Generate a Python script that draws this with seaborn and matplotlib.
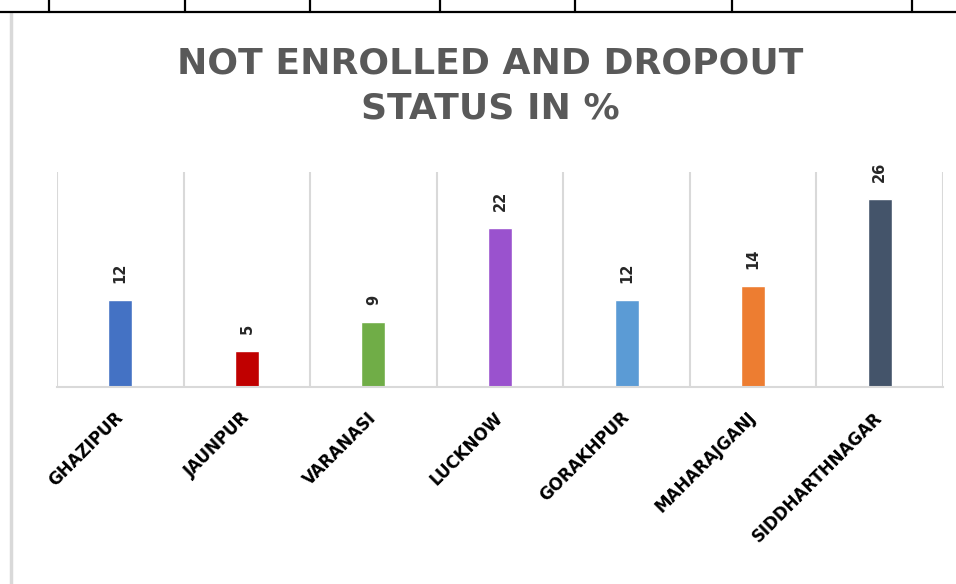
import pandas as pd
import numpy as np
import matplotlib as mpl
import matplotlib.pyplot as plt
import seaborn as sns
from matplotlib.lines import Line2D

#### Data
districts = ['GHAZIPUR', 'JAUNPUR', 'VARANASI', 'LUCKNOW', 'GORAKHPUR', 'MAHARAJGANJ', 'SIDDHARTHNAGAR']
values = [12, 5, 9, 22, 12, 14, 26]
bar_colors = ['#4472C4', '#C00000', '#70AD47', '#9A52CE', '#5B9BD5', '#ED7D31', '#44546A']
title = 'NOT ENROLLED AND DROPOUT\nSTATUS IN %'

df = pd.DataFrame({'district': districts, 'value': values})

sns.set_theme(style='white')
plt.rcParams['font.family'] = ['DejaVu Sans']

W, H = 956, 584
fig = plt.figure(figsize=(W / 100, H / 100), dpi=100)
ax = fig.add_axes([57 / W, 1 - 387 / H, (943 - 57) / W, (387 - 172) / H])

sns.barplot(data=df, x='district', y='value', hue='district', palette=bar_colors,
            width=0.19, legend=False, saturation=1, ax=ax)

#### value labels above the bars
for c in ax.containers:
    ax.bar_label(c, rotation=90, padding=12, fontsize=10.5, color='#262626', fontweight='bold')

ax.set_ylim(0, 29.7)
ax.set_xlim(-0.5, len(districts) - 0.5)
ax.set_xlabel('')
ax.set_ylabel('')
ax.set_yticks([])

#### vertical gridlines between categories
ax.set_xticks(np.arange(len(districts) + 1) - 0.5, minor=True)
ax.grid(which='minor', axis='x', color='#D9D9D9', linewidth=1.5)
ax.grid(which='major', visible=False)
ax.tick_params(which='both', length=0)
ax.tick_params(axis='x', which='major', pad=20)

for s in ['top', 'right', 'left']:
    ax.spines[s].set_visible(False)
ax.spines['bottom'].set_color('#D9D9D9')
ax.spines['bottom'].set_linewidth(1.5)

ax.set_xticks(range(len(districts)))
ax.set_xticklabels(districts, rotation=45, ha='right', va='center', rotation_mode='anchor',
                   fontsize=12, fontweight='bold', color='#000000')

fig.text(490 / W, 1 - 86 / H, title, ha='center', va='center', fontsize=26,
         fontweight='bold', color='#595959', linespacing=1.42)

#### chart frame and table border from the screenshot
fig.add_artist(Line2D([11 / W, 11 / W], [0, 1 - 13 / H], color='#D9D9D9', lw=2.5))
fig.add_artist(Line2D([0, 1], [1 - 12 / H, 1 - 12 / H], color='black', lw=1.6))
for xv in [49, 185, 310, 440, 575, 732, 912]:
    fig.add_artist(Line2D([xv / W, xv / W], [1 - 12 / H, 1], color='black', lw=1.6))

plt.savefig('out.png', dpi=100)
